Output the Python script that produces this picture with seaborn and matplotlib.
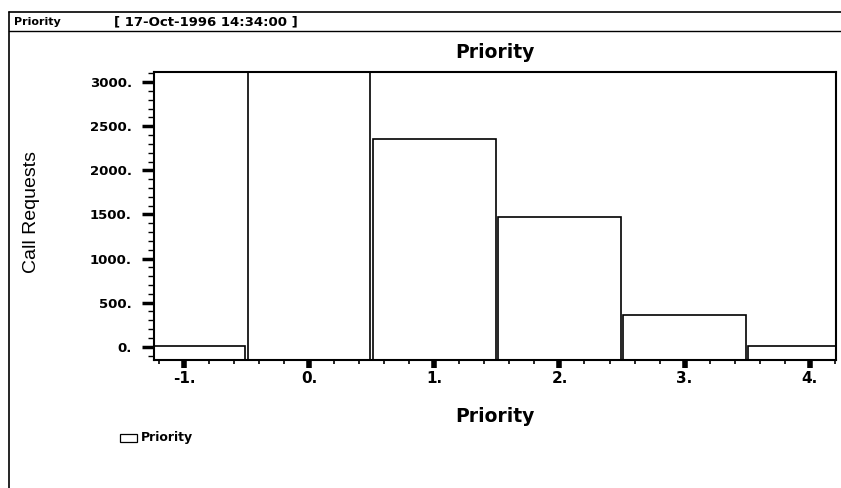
import matplotlib
matplotlib.use("Agg")
import matplotlib.pyplot as plt
import seaborn as sns
import pandas as pd
import numpy as np
from matplotlib.ticker import MultipleLocator, FixedLocator
from matplotlib.lines import Line2D
from matplotlib.patches import Rectangle

priority = [-1, 0, 1, 2, 3, 4]
call_requests = [10, 3500, 2355, 1470, 355, 5]
y_ticks = [0, 500, 1000, 1500, 2000, 2500, 3000]
y_tick_labels = ["0.", "500.", "1000.", "1500.", "2000.", "2500.", "3000."]
x_tick_labels = ["-1.", "0.", "1.", "2.", "3.", "4."]

sns.set_theme(style="white")
plt.rcParams['font.family'] = ['DejaVu Sans']
for k in ["text.color", "axes.labelcolor", "xtick.color", "ytick.color"]:
    plt.rcParams[k] = "black"

YMIN, YMAX = -150, 3115

df = pd.DataFrame({"Priority": priority, "Count": call_requests})
df["Height"] = df["Count"] - YMIN

fig = plt.figure(figsize=(8.41, 4.88), dpi=100)
ax = fig.add_axes([154/841, 1 - 360/488, (836-154)/841, (360-72)/488])

sns.barplot(data=df, x="Priority", y="Height", order=priority, native_scale=True,
            width=0.98, color="white", edgecolor="black", linewidth=1.2,
            bottom=YMIN, ax=ax, saturation=1)

ax.set_xlim(-1.24, 4.21)
ax.set_ylim(YMIN, YMAX)
ax.yaxis.set_major_locator(FixedLocator(y_ticks))
ax.set_yticklabels(y_tick_labels)
ax.yaxis.set_minor_locator(MultipleLocator(100))
ax.xaxis.set_major_locator(FixedLocator(priority))
ax.set_xticklabels(x_tick_labels)
ax.xaxis.set_minor_locator(MultipleLocator(0.2))

for s in ax.spines.values():
    s.set_color("black")
    s.set_linewidth(1.5)

ax.tick_params(axis="y", which="major", direction="out", length=9, width=2.5,
               color="black", labelsize=9.5, pad=7, left=True)
ax.tick_params(axis="y", which="minor", direction="out", length=4.5, width=1,
               color="black", left=True)
ax.tick_params(axis="x", which="major", direction="out", length=6, width=4,
               color="black", labelsize=11, pad=2, bottom=True)
ax.tick_params(axis="x", which="minor", direction="out", length=3, width=1.2,
               color="black", bottom=True)
for lab in ax.get_yticklabels() + ax.get_xticklabels():
    lab.set_fontweight("bold")

ax.set_xlabel("Priority", fontsize=13.5, fontweight="bold")
ax.xaxis.label.set_va("center")
ax.xaxis.set_label_coords((495-154)/682, -(416-360)/288)
ax.set_ylabel("Call Requests", fontsize=14,
              family=['Liberation Sans Narrow', 'Liberation Sans', 'DejaVu Sans'])
ax.yaxis.label.set_va("center")
ax.yaxis.set_label_coords((31-154)/682, (360-212)/288)
ax.set_title("Priority", fontsize=13.5, fontweight="bold", pad=10)

# header and frame
T = fig.transFigure
fig.add_artist(Line2D([9/841, 9/841], [0, 1 - 12/488], color="black", lw=1.2, transform=T))
fig.add_artist(Line2D([9/841, 1], [1 - 12/488, 1 - 12/488], color="black", lw=1.2, transform=T))
fig.add_artist(Line2D([9/841, 1], [1 - 31/488, 1 - 31/488], color="black", lw=1.0, transform=T))
fig.text(14/841, 1 - 22/488, "Priority", fontsize=8, fontweight="bold", va="center", ha="left")
fig.text(114/841, 1 - 22/488, "[ 17-Oct-1996 14:34:00 ]", fontsize=9.5, fontweight="bold",
         va="center", ha="left")

# legend
fig.add_artist(Rectangle((120/841, 1 - 442/488), 17/841, 8/488, facecolor="white",
                         edgecolor="black", lw=0.9, transform=T))
fig.text(141/841, 1 - 438/488, "Priority", fontsize=9, fontweight="bold", va="center", ha="left")

fig.savefig("out.png", dpi=100)
